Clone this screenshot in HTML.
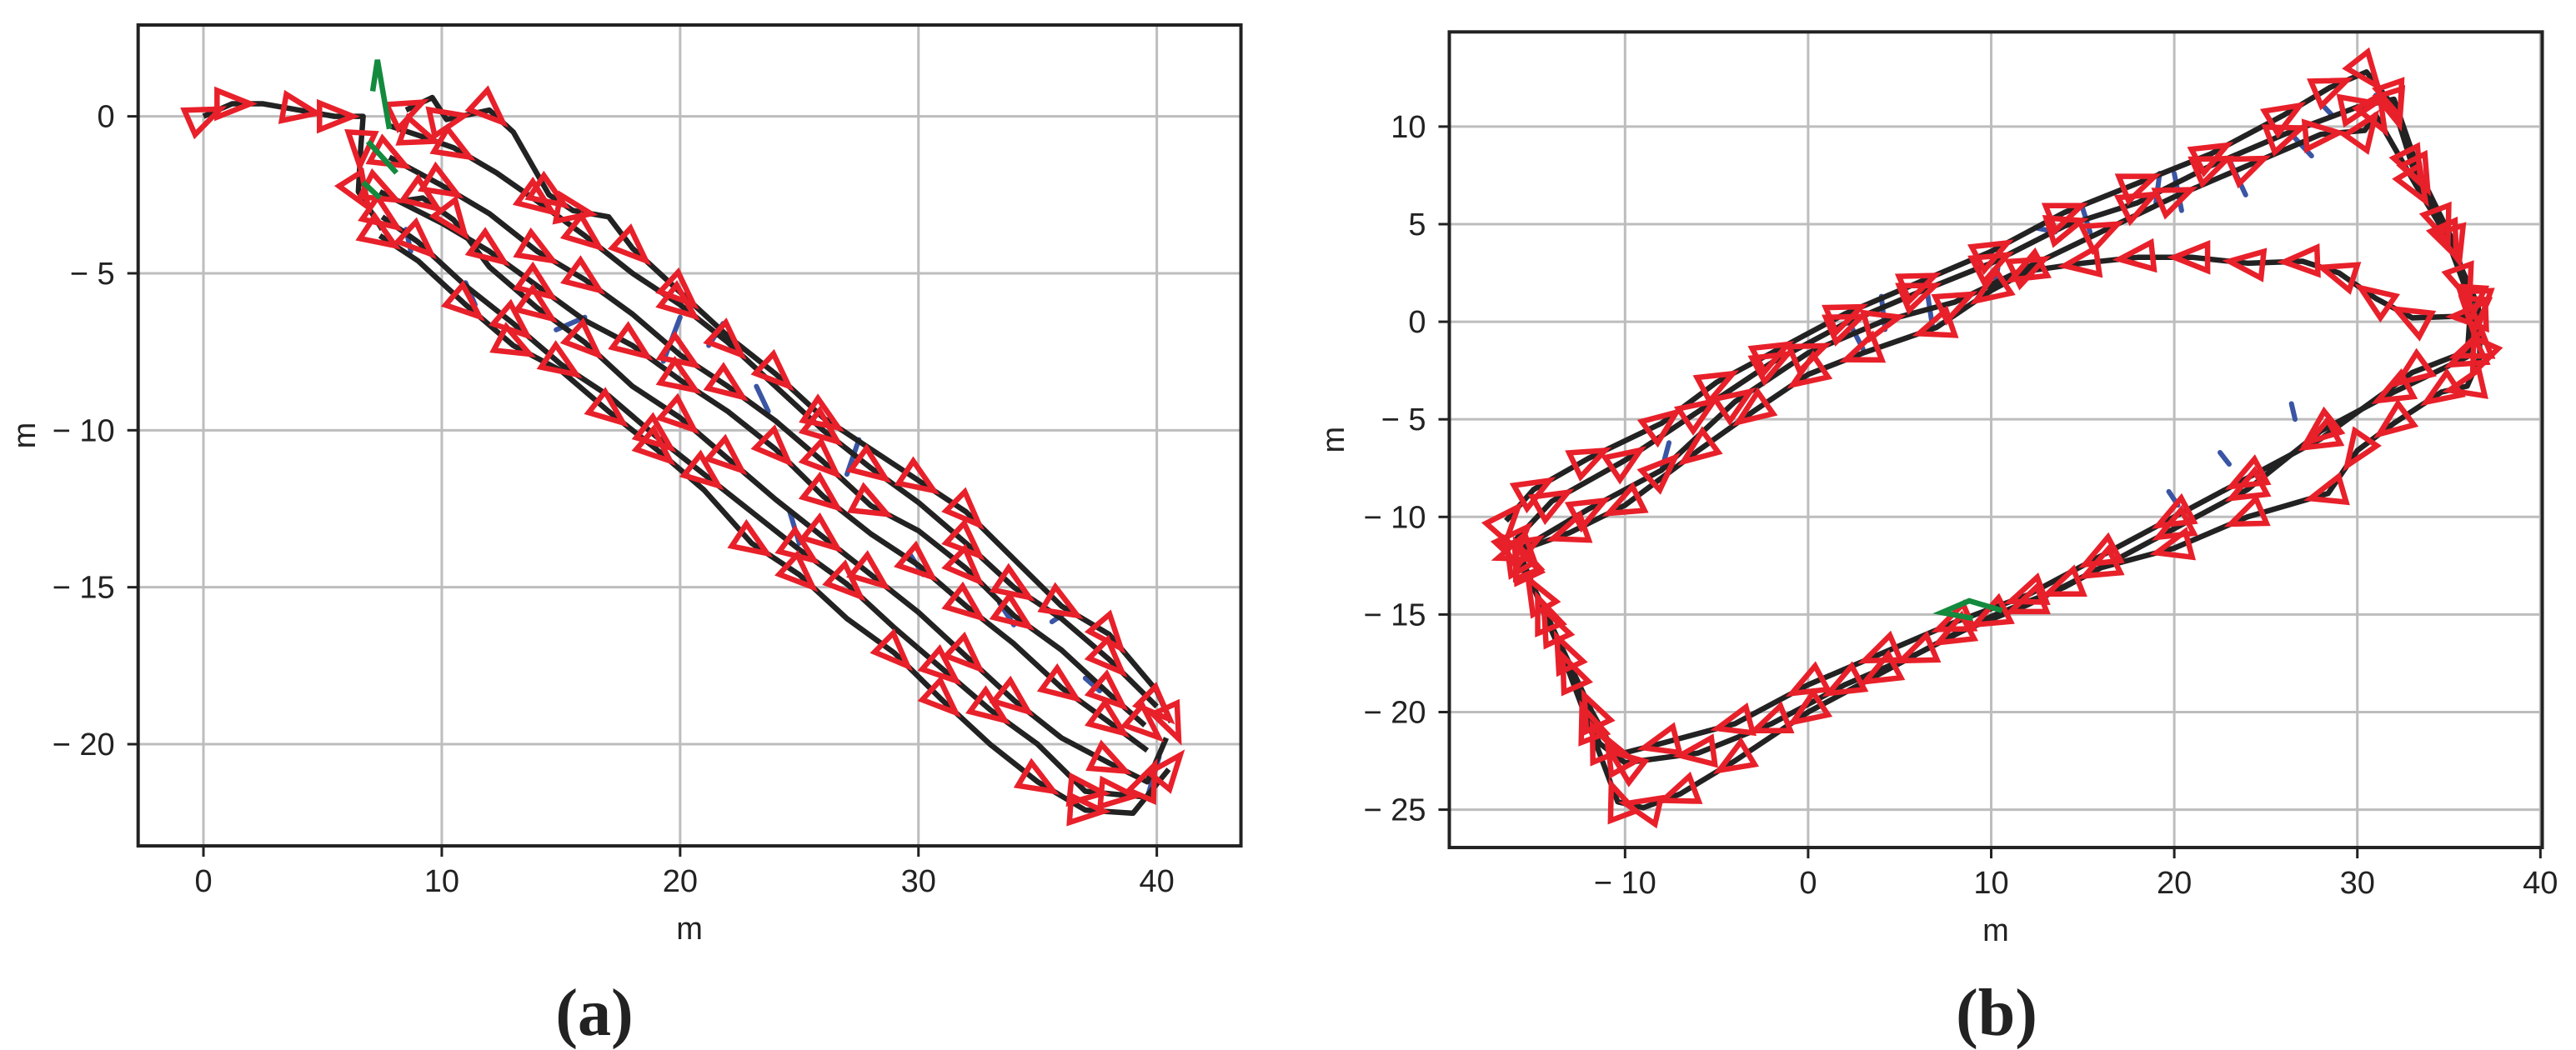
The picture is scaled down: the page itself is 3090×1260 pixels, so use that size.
<!DOCTYPE html>
<html><head><meta charset="utf-8"><style>
html,body{margin:0;padding:0;background:#fff}
svg{display:block}
text{font-family:"Liberation Sans",sans-serif;fill:#222}
</style></head><body>
<svg id="fig" width="3090" height="1260" viewBox="0 0 3090 1260" xmlns="http://www.w3.org/2000/svg">
<g id="pa"></g>
<g id="pb"></g>
<text x="713" y="1242" font-size="80" text-anchor="middle" style="font-family:'Liberation Serif',serif;font-weight:bold">(a)</text>
<text x="2395" y="1242" font-size="80" text-anchor="middle" style="font-family:'Liberation Serif',serif;font-weight:bold">(b)</text>
</svg>
<script>
// ---------- Panel (a) data ----------
const aXTicks = [0, 10, 20, 30, 40];
const aYTicks = [0, -5, -10, -15, -20];
const aPaths = [
  [[0,0],[1.2,0.4],[2.5,0.4],[4,0.2],[5.5,0],[6.7,0],[6.6,-1],[6.5,-2.4],[7.5,-3.6]],
  [[8.5,0.2],[9.6,0.6],[10.2,-0.1],[12,0.2],[13,-0.5],[14.5,-2.5],[15.5,-3],[17,-3.2],[18,-4.2],[20,-5.6],[22,-7],[24,-8.2],[26,-9.6],[28,-10.6],[30,-11.6],[32,-12.6],[34,-14.1],[36,-15.6],[38,-16.5],[40,-18.3],[40.6,-19.3]],
  [[7.8,-0.3],[9,-0.6],[10.5,-1],[12.3,-1.8],[14,-2.7],[16,-3.8],[18,-5],[20,-6],[22,-7.2],[24,-8.6],[26,-10],[28,-11.2],[30,-12.3],[32,-13.6],[34,-15],[36,-16],[38,-17.3],[40,-18.8]],
  [[7.8,-1.3],[10,-2.2],[12,-3.1],[14,-4.3],[16,-5.2],[18,-6.3],[20,-7.6],[22,-8.6],[24,-9.7],[26,-11],[28,-12.4],[30,-13.2],[32,-14.4],[34,-15.9],[36,-17],[38,-18.4],[39.5,-19.4]],
  [[7.4,-2.4],[10,-3.4],[12,-4.3],[14,-5.4],[16,-6.5],[18,-7.3],[20,-8.4],[22,-9.4],[24,-10.6],[26,-12.1],[28,-13.3],[30,-14.3],[32,-15.6],[34,-16.8],[36,-18.2],[38,-19.3],[39.6,-20.2]],
  [[8.3,-2.7],[9.2,-2.6],[10.5,-3.3],[12,-4.8],[14,-6.1],[16,-7.2],[18,-8.6],[20,-9.6],[22,-10.9],[24,-12.2],[26,-13.4],[28,-14.6],[30,-15.8],[32,-17.2],[34,-18.6],[36,-19.8],[38,-20.6],[39.6,-21.2],[40.4,-19.8]],
  [[7.5,-3.2],[9,-4],[11,-5.4],[13,-6.6],[15,-7.9],[17,-8.9],[19,-10.2],[21,-11.4],[23,-12.6],[25,-13.8],[27,-14.9],[29,-16.3],[31,-17.6],[33,-18.9],[35,-20],[37,-21.5],[38.3,-21.6],[39.8,-21.7]],
  [[7.4,-3.8],[9,-4.6],[11,-6],[13,-7.3],[15,-8.1],[17,-9.4],[19,-10.6],[21,-11.9],[23,-13.6],[25,-14.6],[27,-16],[29,-17.1],[31,-18.6],[33,-20],[35,-21.2],[37,-22.1],[39,-22.2],[40.5,-20.8]]
];
const aBlue = [[8.5,-3.6,8.7,-4.3],[11,-5.3,11.4,-6],[14.8,-6.8,16,-6.4],[19.3,-7.8,20,-6.4],[21.2,-7.3,21.8,-6.6],[23.2,-8.6,23.7,-9.4],[24.6,-12.6,25,-13.6],[27,-11.4,27.5,-10.3],[29.6,-13.9,30.2,-14.6],[33.4,-15.5,34,-16.2],[35.6,-16.1,36.2,-15.8],[37,-17.9,37.6,-18.3],[39.6,-21.7,40.1,-20.4]];
const aGreen = [[[7.1,0.8],[7.3,1.8],[7.8,-0.4]],[[6.9,-0.8],[8.1,-1.8]],[[6.7,-2.1],[7.4,-2.6]]];

// ---------- Panel (b) data ----------
const bXTicks = [-10, 0, 10, 20, 30, 40];
const bYTicks = [10, 5, 0, -5, -10, -15, -20, -25];
const bPaths = [
  [[-16.5,-10.2],[-15,-8.6],[-12,-7],[-8,-5.2],[-5,-3.1],[-2,-1.6],[2,0.4],[6,2],[10,3.6],[14,5.6],[18,7.1],[22,8.6],[26,10.6],[28.5,12],[30.5,12.8],[32,11],[33,8],[34.6,5],[35.8,2],[36.4,0.4],[36.3,-1.4],[33,-2.6],[28,-6],[24,-8],[20,-10],[16,-12],[12,-14],[8,-15.4],[4,-17],[0,-18.6],[-4,-20.6],[-8,-21.6],[-10.5,-22.2],[-11.8,-20],[-13.3,-17],[-14.8,-14],[-16,-12]],
  [[-16,-11.2],[-14,-9.2],[-10,-7.1],[-6,-4.6],[-2,-2.1],[2,-0.1],[6,1.5],[10,3],[14,4.9],[18,6.1],[22,8],[26,9.6],[30,11],[32,11.4],[33.4,7.6],[35.3,4],[36.2,1],[36,-1.8],[32,-3.6],[28,-5.6],[24,-8.6],[20,-10.6],[14,-13.6],[10,-15.1],[6,-17],[2,-18.6],[-2,-20.6],[-6,-22.1],[-10,-22.6],[-11.4,-21.6],[-13,-18],[-14.4,-15],[-15.6,-12.2]],
  [[-15.6,-11.6],[-12,-9.6],[-8,-7.6],[-4,-4.1],[0,-1.6],[4,0],[8,1],[12,2.8],[16,4.6],[20,6.4],[24,8],[28,9.6],[30.4,9.8],[31,10.6],[33.2,7],[35,4.2],[36.6,0.8],[36.7,-1.8],[36,-3.3],[34.6,-3.6],[32,-5.2],[30,-6.6],[28.4,-8.8],[24,-10],[20,-11.6],[16,-12.6],[12,-14.5],[8,-16],[4,-18],[0,-20],[-4,-22.5],[-7,-24.2],[-9,-24.9],[-10.4,-24.6],[-12,-20.6],[-14,-15.6],[-15.6,-12.4]],
  [[36.2,0.3],[33,0.2],[31,1.2],[29,2.5],[27,3.1],[24,3],[21,3.3],[18,3.3],[15,3],[12,2.6],[10,1.6],[7,-0.3],[3,-1.6],[0,-2.7],[-3,-4.6],[-6,-6.6],[-10,-9.4],[-13,-10.8],[-16,-11.8]]
];
const bBlue = [[-8,-7.6,-7.6,-6.2],[2,0.4,3,-1.4],[4,1.3,4.2,-0.4],[6.4,2.2,6.8,-0.3],[10.5,3.7,10.2,1.7],[12.5,4.8,13.5,4.6],[15,5.8,15.4,4.6],[19.2,7.6,19,6.1],[20,7.6,20.4,5.7],[23,8.3,23.9,6.5],[26.5,9.5,27.5,8.5],[28,11.2,28.6,10.6],[31,11.6,31.6,11],[26.4,-4.2,26.6,-5],[22.5,-6.7,23,-7.3],[19.7,-8.7,20.2,-9.4]];
const bGreen = [[[10.6,-14.8],[8.8,-14.3],[7.3,-14.9],[9,-15.2]]];

const NS = "http://www.w3.org/2000/svg";
function mk(tag, attrs, parent){ const e=document.createElementNS(NS,tag); for(const k in attrs) e.setAttribute(k,attrs[k]); parent.appendChild(e); return e; }
function fmt(v){ return v<0 ? "\u2212 " + Math.abs(v) : String(v); }

function drawPanel(g, cfg){
  const sx = v => cfg.x0 + (v - cfg.xmin) * cfg.kx;
  const sy = v => cfg.y0 + (cfg.ymax - v) * cfg.ky;
  const L = sx(cfg.xmin), R = sx(cfg.xmax), T = sy(cfg.ymax), B = sy(cfg.ymin);
  cfg.xticks.forEach(t=>{
    const x=sx(t);
    const gl=mk("line",{x1:x,y1:T,x2:x,y2:B,stroke:"#bdbdbd","stroke-width":3},g);
    
    
    const tk=mk("line",{x1:x,y1:B,x2:x,y2:B+13,stroke:"#222","stroke-width":3},g);
    
    
    const tx=mk("text",{x:x,y:B+55,"font-size":38,"text-anchor":"middle"},g);
    tx.textContent=fmt(t);
    
    
  });
  cfg.yticks.forEach(t=>{
    const y=sy(t);
    const gl=mk("line",{x1:L,y1:y,x2:R,y2:y,stroke:"#bdbdbd","stroke-width":3},g);
    
    
    const tk=mk("line",{x1:L-13,y1:y,x2:L,y2:y,stroke:"#222","stroke-width":3},g);
    
    
    const tx=mk("text",{x:L-28,y:y+13,"font-size":38,"text-anchor":"end"},g);
    tx.textContent=fmt(t);
    
    
  });
  const clipId = "clip"+cfg.id;
  const cp=mk("clipPath",{id:clipId},g); mk("rect",{x:L,y:T,width:R-L,height:B-T},cp);
  const plot=mk("g",{"clip-path":"url(#"+clipId+")"},g);
  
  
  cfg.blue.forEach(s=>{
    const l=mk("line",{x1:sx(s[0]),y1:sy(s[1]),x2:sx(s[2]),y2:sy(s[3]),stroke:"#3a55a4","stroke-width":6,"stroke-linecap":"round"},plot);
    
    
  });
  cfg.paths.forEach(p=>{
    const pl=mk("polyline",{points:p.map(q=>sx(q[0])+","+sy(q[1])).join(" "),fill:"none",stroke:"#222","stroke-width":6.5,"stroke-linejoin":"round"},plot);
    
    
  });
  cfg.paths.forEach((p,pi)=>{
    p.forEach((q,i)=>{
      if (cfg.skip && (i + pi + 1) % cfg.skip === 0) return;
      const a = i<p.length-1 ? p[i+1] : q; const b = i<p.length-1 ? q : p[i-1];
      const ang = Math.atan2(sy(a[1])-sy(b[1]), sx(a[0])-sx(b[0]));
      const cx=sx(q[0]), cy=sy(q[1]), c=Math.cos(ang), s=Math.sin(ang);
      const pts=[[22,0],[-18,-16],[-18,16]].map(v=>(cx+v[0]*c-v[1]*s)+","+(cy+v[0]*s+v[1]*c)).join(" ");
      const tri=mk("polygon",{points:pts,fill:"none",stroke:"#e8202a","stroke-width":6.5,"stroke-linejoin":"miter"},plot);
      
      
    });
  });
  cfg.green.forEach(p=>{
    const pl=mk("polyline",{points:p.map(q=>sx(q[0])+","+sy(q[1])).join(" "),fill:"none",stroke:"#138a3e","stroke-width":6.5},plot);
    
    
  });
  const fr=mk("rect",{x:L,y:T,width:R-L,height:B-T,fill:"none",stroke:"#222","stroke-width":4},g);
  
  
  const xl=mk("text",{x:(L+R)/2,y:B+112,"font-size":38,"text-anchor":"middle"},g);
  xl.textContent="m";
  
  
  const yx=cfg.ylabX, yy=(T+B)/2;
  const yl=mk("text",{x:yx,y:yy,"font-size":38,"text-anchor":"middle",transform:"rotate(-90 "+yx+" "+yy+")"},g);
  yl.textContent="m";
  
  
}

drawPanel(document.getElementById("pa"),{id:"a",x0:165.7,xmin:-2.74,xmax:43.53,kx:28.59,y0:30,ymax:2.91,ymin:-23.24,ky:37.67,
  xticks:aXTicks,yticks:aYTicks,paths:aPaths,blue:aBlue,green:aGreen,ylabX:42,skip:3});
drawPanel(document.getElementById("pb"),{id:"b",x0:1738.5,xmin:-19.6,xmax:40.1,kx:21.96,y0:38.3,ymax:14.85,ymin:-26.94,ky:23.42,
  xticks:bXTicks,yticks:bYTicks,paths:bPaths,blue:bBlue,green:bGreen,ylabX:1612,skip:0});
</script>
</body></html>
